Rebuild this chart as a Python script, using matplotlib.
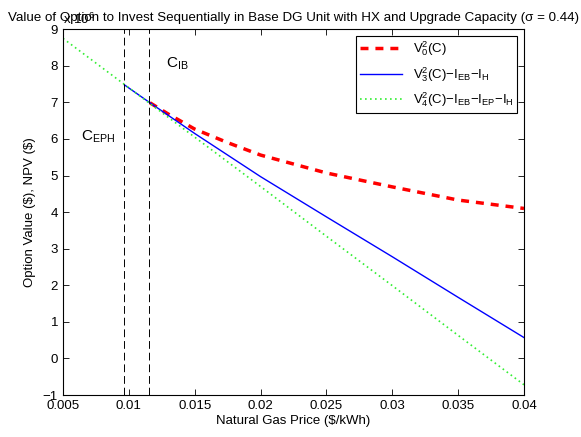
#!/usr/bin/env python3
"""Option value vs natural gas price, sequential investment in DG unit."""
import matplotlib
matplotlib.use("Agg")
import matplotlib.pyplot as plt

plt.rcParams["font.family"] = ["Liberation Sans", "DejaVu Sans"]
plt.rcParams["mathtext.default"] = "regular"
plt.rcParams["font.size"] = 10

# Data (values in units of 1e6 $)
gas_price_v0 = [0.0116, 0.013, 0.015, 0.0175, 0.02, 0.025, 0.03, 0.035, 0.04]
option_v0 = [6.99, 6.68, 6.27, 5.90, 5.56, 5.07, 4.69, 4.33, 4.10]

gas_price_v3 = [0.00966, 0.0116, 0.015, 0.02, 0.025, 0.03, 0.035, 0.04]
npv_v3 = [7.48, 6.99, 6.15, 4.97, 3.87, 2.78, 1.67, 0.57]

gas_price_v4 = [0.005, 0.01, 0.015, 0.02, 0.025, 0.03, 0.035, 0.04]
npv_v4 = [8.75, 7.40, 6.05, 4.70, 3.34, 1.99, 0.63, -0.72]

c_eph = 0.00966
c_ib = 0.01156

x_ticks = [0.005, 0.01, 0.015, 0.02, 0.025, 0.03, 0.035, 0.04]
x_tick_labels = ["0.005", "0.01", "0.015", "0.02", "0.025", "0.03", "0.035", "0.04"]
y_ticks = list(range(-1, 10))

fig = plt.figure(figsize=(5.81, 4.37), dpi=100)
ax = fig.add_axes([0.1084, 0.0961, 0.7935, 0.837])

ax.plot(gas_price_v0, option_v0, "--", color="red", linewidth=2.5,
        dashes=(2.3, 2.0), label=r"$V_0^2(C)$")
ax.plot(gas_price_v3, npv_v3, "-", color="blue", linewidth=1.0,
        label=r"$V_3^2(C){-}I_{EB}{-}I_H$")
ax.plot(gas_price_v4, npv_v4, ":", color="#33ee33", linewidth=1.2,
        dashes=(1, 2), label=r"$V_4^2(C){-}I_{EB}{-}I_{EP}{-}I_H$")

# Thresholds
ax.axvline(c_eph, color="black", linewidth=0.7, dashes=(8, 4))
ax.axvline(c_ib, color="black", linewidth=0.7, dashes=(8, 4))
ax.text(0.0064, 6.05, r"$C_{EPH}$", fontsize=11, va="center", ha="left")
ax.text(0.0128, 8.05, r"$C_{IB}$", fontsize=11, va="center", ha="left")

# Labels
ax.set_xlim(0.005, 0.04)
ax.set_ylim(-1, 9)
ax.set_xticks(x_ticks)
ax.set_xticklabels(x_tick_labels)
ax.set_yticks(y_ticks)
ax.set_yticklabels([str(v).replace("-", "\u2212") for v in y_ticks])
ax.tick_params(direction="in", top=True, right=True, length=4, width=0.6,
               labelsize=9.5)
for spine in ax.spines.values():
    spine.set_linewidth(0.8)
ax.set_xlabel("Natural Gas Price (\\$/kWh)", labelpad=2, fontsize=9.5)
ax.set_ylabel("Option Value (\\$), NPV (\\$)", labelpad=5, fontsize=9.5)
ax.set_title("Value of Option to Invest Sequentially in Base DG Unit with HX "
             "and Upgrade Capacity (\u03c3 = 0.44)", fontsize=9.6, pad=6)
fig.text(0.1084, 0.938, r"x 10$^{6}$", fontsize=9.5, ha="left", va="bottom")

leg = ax.legend(loc="upper right", fancybox=False, edgecolor="black",
                framealpha=1, fontsize=9.5, handlelength=3.2,
                borderaxespad=0.5, labelspacing=0.5, borderpad=0.3)
leg.get_frame().set_linewidth(0.8)

fig.savefig("out.png", dpi=100)
